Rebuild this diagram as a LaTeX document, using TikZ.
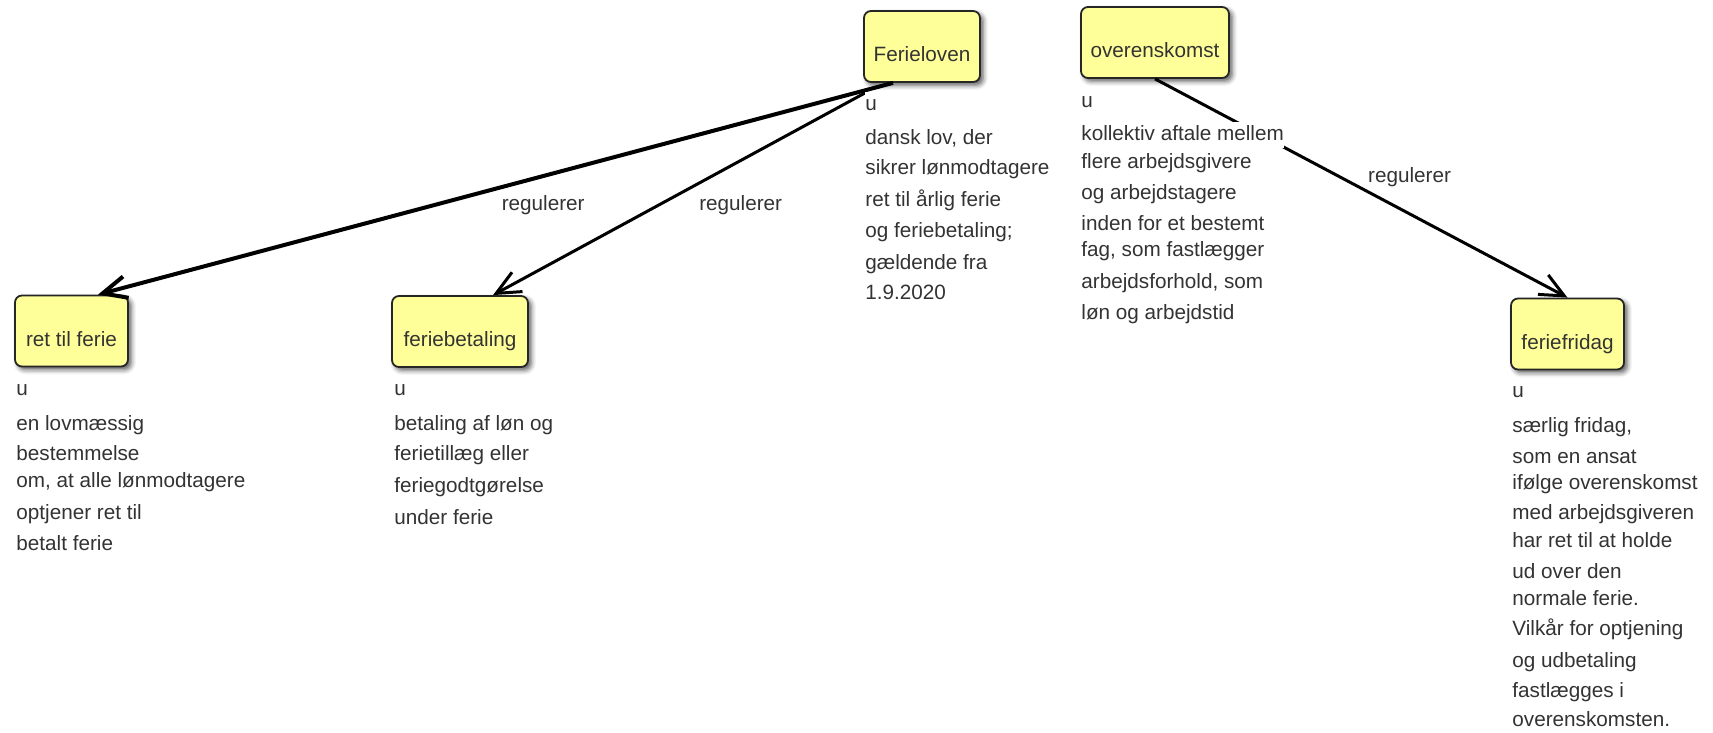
\documentclass[tikz,border=0pt]{standalone}
\usepackage{fontspec}
\setmainfont{Liberation Sans}
\usepackage{array}
\usetikzlibrary{arrows.meta,calc,shadows.blur}

\definecolor{conceptfill}{RGB}{255,255,153}
\definecolor{inkgray}{RGB}{51,51,51}

% text size of the whole map
\newcommand{\mapfont}{\fontsize{10.35pt}{13pt}\selectfont}

% every line of a description sits on its own white patch
\newsavebox{\wlbox}
\newcommand{\wlbg}[1]{\begingroup\setlength{\fboxsep}{0pt}\colorbox{white}{\strut#1}\endgroup}
\newcolumntype{W}{>{\begin{lrbox}{\wlbox}}l<{\end{lrbox}\wlbg{\usebox{\wlbox}}}}

\tikzset{
  x=0.5pt, y=-0.5pt,
  concept/.style={draw=black!85, line width=0.9pt, fill=conceptfill,
    rounded corners=3.5pt, minimum height=35.5pt, inner sep=0pt,
    text height=18pt, text depth=3pt, text=inkgray, font=\mapfont,
    blur shadow={shadow xshift=1.6pt, shadow yshift=-1.6pt,
      shadow blur radius=2.4pt, shadow opacity=65}},
  note/.style={anchor=base west, inner sep=0pt, text=inkgray, font=\mapfont},
  lbl/.style={inner sep=0pt, text=inkgray, font=\mapfont},
  conn/.style={draw=black, line width=1.5pt,
    -{Straight Barb[length=12pt,width=11pt]}},
}

\begin{document}
\begin{tikzpicture}
\useasboundingbox (0,0) rectangle (1713,733);

% concepts
\node[concept, minimum width=58pt]   (fl) at (922,46.5)   {Ferieloven};
\node[concept, minimum width=74pt]   (ov) at (1155,42.5)  {overenskomst};
\node[concept, minimum width=56.5pt] (rf) at (71.5,331)   {ret til ferie};
\node[concept, minimum width=68pt]   (fb) at (460,331.5)  {feriebetaling};
\node[concept, minimum width=56.5pt] (ff) at (1567.5,334) {feriefridag};

% links
\draw[conn, line width=2pt] ($(fl.south)+(-29,0)$)
  -- node[lbl, pos=0.44, yshift=-14.5pt] (l1) {regulerer}
  ($(rf.north)+(26.5,0)$);
\draw[conn] ($(fl.south west)+(2,10)$)
  -- node[lbl, pos=0.544, xshift=39pt, yshift=-1pt] (l2) {regulerer}
  ($(fb.north)+(33,0)$);
\draw[conn] (ov.south)
  -- node[lbl, pos=0.617, yshift=18.2pt] (l3) {regulerer}
  (ff.north);

% descriptions
\node[note] (flnote) at (865,110.4) {\begin{tabular}[t]{@{}W@{}}
u\\[4pt]
dansk lov, der\\[2pt]
sikrer lønmodtagere\\[3pt]
ret til årlig ferie\\[2.5pt]
og feriebetaling;\\[3pt]
gældende fra\\[2pt]
1.9.2020
\end{tabular}};

\node[note] (ovnote) at (1081,107.4) {\begin{tabular}[t]{@{}W@{}}
u\\[3.5pt]
kollektiv aftale mellem\\[1pt]
flere arbejdsgivere\\[2.5pt]
og arbejdstagere\\[2.5pt]
inden for et bestemt\\[0pt]
fag, som fastlægger\\[3pt]
arbejdsforhold, som\\[2.5pt]
løn og arbejdstid
\end{tabular}};

\node[note] (rfnote) at (16,395) {\begin{tabular}[t]{@{}W@{}}
u\\[4.5pt]
en lovmæssig\\[2pt]
bestemmelse\\[0.5pt]
om, at alle lønmodtagere\\[3pt]
optjener ret til\\[2.5pt]
betalt ferie
\end{tabular}};

\node[note] (fbnote) at (394,395) {\begin{tabular}[t]{@{}W@{}}
u\\[4.5pt]
betaling af løn og\\[2pt]
ferietillæg eller\\[3pt]
feriegodtgørelse\\[3pt]
under ferie
\end{tabular}};

\node[note] (ffnote) at (1512,397.4) {\begin{tabular}[t]{@{}W@{}}
u\\[4.5pt]
særlig fridag,\\[2.3pt]
som en ansat\\[0.1pt]
ifølge overenskomst\\[2.3pt]
med arbejdsgiveren\\[0.7pt]
har ret til at holde\\[2.8pt]
ud over den\\[0.1pt]
normale ferie.\\[2.3pt]
Vilkår for optjening\\[2.8pt]
og udbetaling\\[1.9pt]
fastlægges i\\[1.9pt]
overenskomsten.
\end{tabular}};
\end{tikzpicture}
\end{document}
